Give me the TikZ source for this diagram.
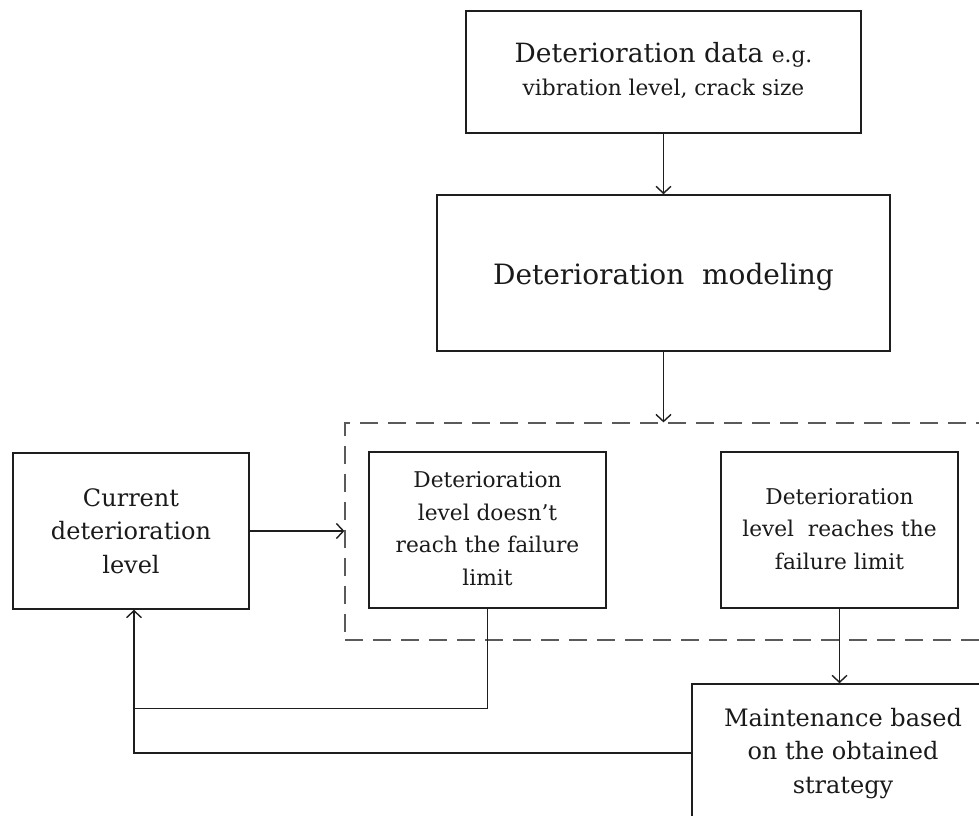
\documentclass[tikz,border=0pt]{standalone}
\usepackage{fontspec}
\setmainfont{DejaVu Serif}
\usetikzlibrary{arrows.meta}
\definecolor{boxline}{HTML}{1E1E1E}
\definecolor{ink}{HTML}{1A1A1A}
\definecolor{dashgray}{HTML}{5A5A5A}
\begin{document}
\begin{tikzpicture}[x=1bp,y=-1bp,
  box/.style={draw=boxline, line width=1.5bp, rectangle, inner sep=0pt, align=center, text=ink},
  grp/.style={draw=dashgray, line width=1.2bp, dash pattern=on 18bp off 10bp, rectangle, inner sep=0pt},
  flow/.style={draw=boxline, line width=1.4bp},
  arrow/.style={flow, -{Straight Barb[length=7bp,width=15bp]}},
  bigtext/.style={font=\fontsize{24bp}{33.5bp}\selectfont},
  smalltext/.style={font=\fontsize{21.7bp}{32.5bp}\selectfont}
]
\useasboundingbox (0,0) rectangle (979,816);
\clip (0,0) rectangle (979,816);

% dashed frame around the two possible outcomes
\node[grp, minimum width=650bp, minimum height=217bp] (group) at (670,531.5) {};

% boxes
\node[box, minimum width=395bp, minimum height=122bp,
      font=\fontsize{26.5bp}{33.3bp}\selectfont] (data) at (663.5,72)
  {\strut Deterioration data {\fontsize{21.7bp}{33.3bp}\selectfont e.g.}\\
   {\fontsize{21.7bp}{33.3bp}\selectfont\strut vibration level, crack size}};
\node[box, minimum width=453bp, minimum height=156bp,
      font=\fontsize{28bp}{34bp}\selectfont, text height=23bp, text depth=0bp] (model) at (663.5,273)
  {Deterioration\ \ modeling};
\node[box, bigtext, minimum width=236bp, minimum height=156bp] (current) at (131,531)
  {\rule{0pt}{28bp}Current\\\strut deterioration\\\strut level};
\node[box, smalltext, minimum width=237bp, minimum height=156bp] (nreach) at (487.5,530)
  {\strut Deterioration\\\strut level doesn’t\\\strut reach the failure\\\strut limit};
\node[box, smalltext, minimum width=237bp, minimum height=156bp] (reach) at (839.5,530)
  {\strut Deterioration\\\strut level\ \ reaches the\\\strut failure limit};
\node[box, bigtext, minimum width=302bp, minimum height=138bp] (maint) at (843,753)
  {\strut Maintenance based\\\strut on the obtained\\\strut strategy};

% connectors
\draw[arrow] (data) -- (model);
\draw[arrow] (model.south) -- (model.south |- group.north);
\draw[arrow] (current.east) -- (current.east -| group.west);
\draw[arrow] (reach.south) -- (reach.south |- maint.north);
\coordinate (up) at ([xshift=3bp]current.south);
\path (up) ++(0,99) coordinate (merge);
\draw[flow] (nreach.south) |- (merge);
\draw[arrow] (maint.west) -| (up);
\end{tikzpicture}
\end{document}
